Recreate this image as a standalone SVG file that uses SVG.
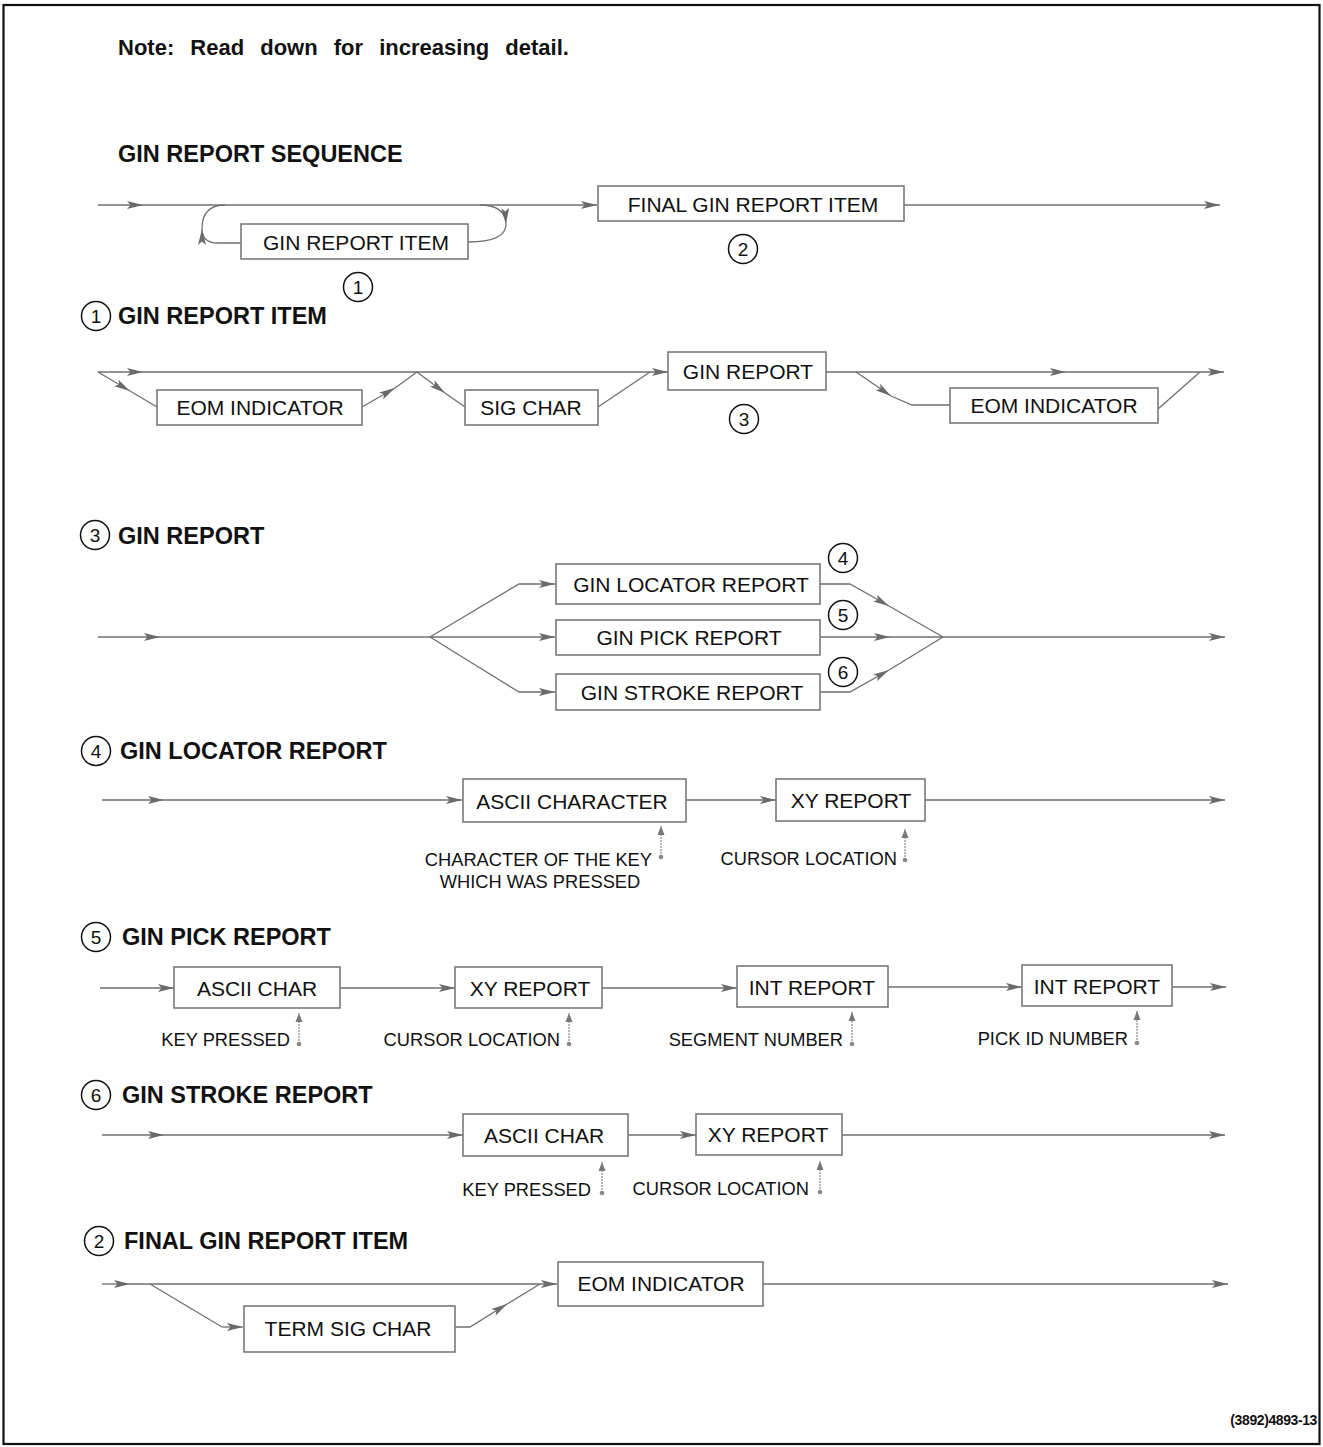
<svg xmlns="http://www.w3.org/2000/svg" width="1323" height="1447" viewBox="0 0 1323 1447">
<defs>
<marker id="arr" markerUnits="userSpaceOnUse" markerWidth="17" markerHeight="10" refX="16" refY="5" orient="auto">
<path d="M0,1 L16,5 L0,9 L3.5,5 z" fill="#6a6a6a"/>
</marker>
<marker id="sarr" markerUnits="userSpaceOnUse" markerWidth="10" markerHeight="8" refX="9" refY="4" orient="auto">
<path d="M0,0.5 L9,4 L0,7.5 z" fill="#777"/>
</marker>
<marker id="dot" markerUnits="userSpaceOnUse" markerWidth="6" markerHeight="6" refX="3" refY="3">
<circle cx="3" cy="3" r="2.3" fill="#888"/>
</marker>
</defs>
<style>
text { font-family: "Liberation Sans", Arial, sans-serif; fill: #111; }
.box { fill: #fff; stroke: #7a7a7a; stroke-width: 1.6; }
.lbl { font-size: 21px; text-anchor: middle; }
.hd { font-size: 23.5px; font-weight: bold; }
.ann { font-size: 18.3px; }
.annr { font-size: 18.3px; text-anchor: end; }
.ln { stroke: #6f6f6f; stroke-width: 1.3; fill: none; }
.ar { marker-end: url(#arr); }
.an { stroke: #888; stroke-width: 1.2; fill: none; stroke-dasharray: 2 1; marker-end: url(#sarr); marker-start: url(#dot); }
.cir { fill: none; stroke: #111; stroke-width: 1.5; }
.num { font-size: 19px; text-anchor: middle; }
</style>
<rect width="1323" height="1447" fill="#fff"/>
<rect x="3.5" y="5" width="1316" height="1439" fill="none" stroke="#111" stroke-width="2.2"/>

<text x="118" y="55" font-size="22" font-weight="bold" word-spacing="10">Note: Read down for increasing detail.</text>
<text class="hd" x="118" y="162">GIN REPORT SEQUENCE</text>

<g id="connectors">
<!-- row 1 -->
<path class="ln ar" d="M98,205 L143,205"/>
<path class="ln ar" d="M143,205 L597,205"/>
<path class="ln ar" d="M904,205 L1220,205"/>
<path class="ln ar" d="M480,205 Q505,205 506,224"/>
<path class="ln" d="M506,224 Q506,242 468,242"/>
<path class="ln ar" d="M241,243 L218,243 Q202,243 202,229"/>
<path class="ln" d="M202,229 Q202,205 225,205"/>
<!-- row 2 -->
<path class="ln ar" d="M98,372 L143,372"/>
<path class="ln ar" d="M143,372 L668,372"/>
<path class="ln ar" d="M98,372 L130,391"/>
<path class="ln" d="M130,391 L157,407"/>
<path class="ln ar" d="M362,407 L395,388"/>
<path class="ln" d="M395,388 L417,372"/>
<path class="ln ar" d="M417,372 L445,393"/>
<path class="ln" d="M445,393 L465,407"/>
<path class="ln" d="M598,407 L650,372"/>
<path class="ln ar" d="M826,372 L1066,372"/>
<path class="ln ar" d="M1066,372 L1224,372"/>
<path class="ln ar" d="M856,372 L891,396"/>
<path class="ln" d="M891,396 L912,405 L950,405"/>
<path class="ln" d="M1158,409 L1200,372"/>
<!-- row 3 -->
<path class="ln ar" d="M98,637 L160,637"/>
<path class="ln" d="M160,637 L430,637"/>
<path class="ln ar" d="M430,637 L519,584 L555,584"/>
<path class="ln ar" d="M430,637 L555,637"/>
<path class="ln ar" d="M430,637 L519,692 L555,692"/>
<path class="ln ar" d="M820,584 L850,584 L889,606"/>
<path class="ln" d="M889,606 L943,637"/>
<path class="ln ar" d="M820,637 L890,637"/>
<path class="ln" d="M890,637 L943,637"/>
<path class="ln ar" d="M820,692 L850,692 L889,670"/>
<path class="ln" d="M889,670 L943,637"/>
<path class="ln ar" d="M943,637 L1225,637"/>
<!-- row 4 -->
<path class="ln ar" d="M102,800 L164,800"/>
<path class="ln ar" d="M164,800 L462,800"/>
<path class="ln ar" d="M686,800 L776,800"/>
<path class="ln ar" d="M925,800 L1225,800"/>
<path class="an" d="M661,857 L661,826"/>
<path class="an" d="M905,860 L905,829"/>
<!-- row 5 -->
<path class="ln ar" d="M100,988 L174,988"/>
<path class="ln ar" d="M340,988 L455,988"/>
<path class="ln ar" d="M602,988 L737,988"/>
<path class="ln ar" d="M888,987 L1022,987"/>
<path class="ln ar" d="M1172,987 L1226,987"/>
<path class="an" d="M299,1044 L299,1013"/>
<path class="an" d="M569,1044 L569,1013"/>
<path class="an" d="M852,1044 L852,1012"/>
<path class="an" d="M1137,1043 L1137,1011"/>
<!-- row 6 -->
<path class="ln ar" d="M102,1135 L164,1135"/>
<path class="ln ar" d="M164,1135 L463,1135"/>
<path class="ln ar" d="M628,1135 L696,1135"/>
<path class="ln ar" d="M842,1135 L1225,1135"/>
<path class="an" d="M602,1193 L602,1162"/>
<path class="an" d="M820,1192 L820,1161"/>
<!-- row 7 -->
<path class="ln ar" d="M102,1284 L130,1284"/>
<path class="ln ar" d="M130,1284 L557,1284"/>
<path class="ln" d="M150,1284 L222,1327"/>
<path class="ln ar" d="M222,1327 L243,1327"/>
<path class="ln ar" d="M455,1327 L470,1327 L507,1304"/>
<path class="ln" d="M507,1304 L540,1284"/>
<path class="ln ar" d="M763,1284 L1228,1284"/>
</g>

<!-- row 1 nodes -->
<g id="n-final-gin-report-item">
<rect class="box" x="598" y="186" width="306" height="35"/>
<text class="lbl" x="753" y="211.5">FINAL GIN REPORT ITEM</text>
</g>
<g id="n-gin-report-item">
<rect class="box" x="241" y="224" width="227" height="35"/>
<text class="lbl" x="356" y="249.5">GIN REPORT ITEM</text>
</g>
<g id="c1a"><circle class="cir" cx="358" cy="287" r="14.5"/><text class="num" x="358" y="294">1</text></g>
<g id="c2a"><circle class="cir" cx="743" cy="249" r="14.5"/><text class="num" x="743" y="256">2</text></g>

<!-- section 1 -->
<g id="h1"><circle class="cir" cx="96" cy="316" r="14.5"/><text class="num" x="96" y="323">1</text>
<text class="hd" x="118" y="324">GIN REPORT ITEM</text></g>
<g id="n-eom1">
<rect class="box" x="157" y="390" width="205" height="35"/>
<text class="lbl" x="260" y="415">EOM INDICATOR</text>
</g>
<g id="n-sigchar">
<rect class="box" x="465" y="390" width="133" height="35"/>
<text class="lbl" x="531" y="415">SIG CHAR</text>
</g>
<g id="n-gin-report">
<rect class="box" x="668" y="352" width="158" height="38"/>
<text class="lbl" x="748" y="379">GIN REPORT</text>
</g>
<g id="n-eom2">
<rect class="box" x="950" y="388" width="208" height="35"/>
<text class="lbl" x="1054" y="413">EOM INDICATOR</text>
</g>
<g id="c3a"><circle class="cir" cx="744" cy="419" r="14.5"/><text class="num" x="744" y="426">3</text></g>

<!-- section 3 -->
<g id="h3"><circle class="cir" cx="95" cy="535" r="14.5"/><text class="num" x="95" y="542">3</text>
<text class="hd" x="118" y="544">GIN REPORT</text></g>
<g id="n-locator">
<rect class="box" x="556" y="564" width="264" height="40"/>
<text class="lbl" x="691" y="592">GIN LOCATOR REPORT</text>
</g>
<g id="n-pick">
<rect class="box" x="556" y="620" width="264" height="35"/>
<text class="lbl" x="689" y="645">GIN PICK REPORT</text>
</g>
<g id="n-stroke">
<rect class="box" x="556" y="674" width="264" height="36"/>
<text class="lbl" x="692" y="700">GIN STROKE REPORT</text>
</g>
<g id="c4a"><circle class="cir" cx="843" cy="558" r="14.5"/><text class="num" x="843" y="565">4</text></g>
<g id="c5a"><circle class="cir" cx="843" cy="615" r="14.5"/><text class="num" x="843" y="622">5</text></g>
<g id="c6a"><circle class="cir" cx="843" cy="672" r="14.5"/><text class="num" x="843" y="679">6</text></g>

<!-- section 4 -->
<g id="h4"><circle class="cir" cx="96" cy="751" r="14.5"/><text class="num" x="96" y="758">4</text>
<text class="hd" x="120" y="759">GIN LOCATOR REPORT</text></g>
<g id="n-ascii-character">
<rect class="box" x="463" y="779" width="223" height="43"/>
<text class="lbl" x="572" y="809">ASCII CHARACTER</text>
</g>
<g id="n-xy1">
<rect class="box" x="776" y="779" width="149" height="42"/>
<text class="lbl" x="851" y="808">XY REPORT</text>
</g>
<text class="annr" x="652" y="866">CHARACTER OF THE KEY</text>
<text class="ann" x="540" y="888" text-anchor="middle">WHICH WAS PRESSED</text>
<text class="annr" x="897" y="865">CURSOR LOCATION</text>

<!-- section 5 -->
<g id="h5"><circle class="cir" cx="96" cy="937" r="14.5"/><text class="num" x="96" y="944">5</text>
<text class="hd" x="122" y="945">GIN PICK REPORT</text></g>
<g id="n-ascii-char1">
<rect class="box" x="174" y="967" width="166" height="41"/>
<text class="lbl" x="257" y="996">ASCII CHAR</text>
</g>
<g id="n-xy2">
<rect class="box" x="455" y="967" width="147" height="41"/>
<text class="lbl" x="530" y="996">XY REPORT</text>
</g>
<g id="n-int1">
<rect class="box" x="737" y="966" width="151" height="41"/>
<text class="lbl" x="812" y="995">INT REPORT</text>
</g>
<g id="n-int2">
<rect class="box" x="1022" y="965" width="150" height="41"/>
<text class="lbl" x="1097" y="994">INT REPORT</text>
</g>
<text class="annr" x="290" y="1046">KEY PRESSED</text>
<text class="annr" x="560" y="1046">CURSOR LOCATION</text>
<text class="annr" x="843" y="1046">SEGMENT NUMBER</text>
<text class="annr" x="1128" y="1045">PICK ID NUMBER</text>

<!-- section 6 -->
<g id="h6"><circle class="cir" cx="96" cy="1095" r="14.5"/><text class="num" x="96" y="1102">6</text>
<text class="hd" x="122" y="1103">GIN STROKE REPORT</text></g>
<g id="n-ascii-char2">
<rect class="box" x="463" y="1114" width="165" height="42"/>
<text class="lbl" x="544" y="1143">ASCII CHAR</text>
</g>
<g id="n-xy3">
<rect class="box" x="696" y="1114" width="146" height="41"/>
<text class="lbl" x="768" y="1142">XY REPORT</text>
</g>
<text class="annr" x="591" y="1196">KEY PRESSED</text>
<text class="annr" x="809" y="1195">CURSOR LOCATION</text>

<!-- section 2 -->
<g id="h2"><circle class="cir" cx="99" cy="1241" r="14.5"/><text class="num" x="99" y="1248">2</text>
<text class="hd" x="124" y="1249">FINAL GIN REPORT ITEM</text></g>
<g id="n-term-sig-char">
<rect class="box" x="244" y="1306" width="211" height="46"/>
<text class="lbl" x="348" y="1336">TERM SIG CHAR</text>
</g>
<g id="n-eom3">
<rect class="box" x="558" y="1262" width="205" height="44"/>
<text class="lbl" x="661" y="1291">EOM INDICATOR</text>
</g>

<text x="1317" y="1425" font-size="14" font-weight="bold" letter-spacing="-0.4" text-anchor="end">(3892)4893-13</text>
</svg>
